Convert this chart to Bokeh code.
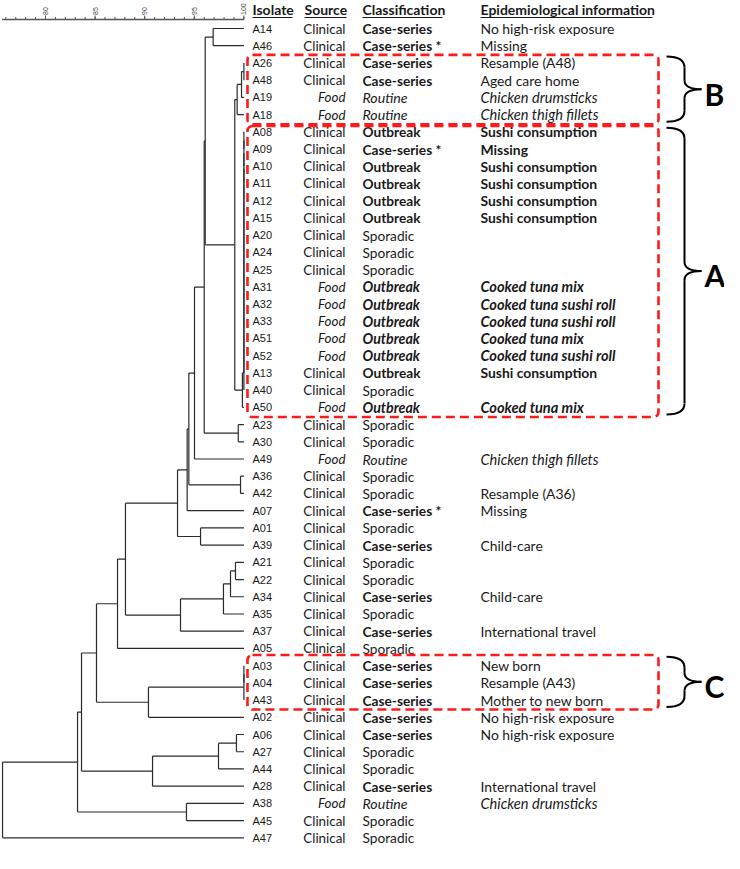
import math
from bokeh.plotting import figure
from bokeh.models import Range1d, ColumnDataSource, BoxAnnotation
from bokeh.embed import file_html
from bokeh.resources import INLINE
from bokeh.core.properties import value, field

# ---------------- data ----------------
isolates = ["A14", "A46", "A26", "A48", "A19", "A18", "A08", "A09", "A10", "A11", "A12", "A15",
            "A20", "A24", "A25", "A31", "A32", "A33", "A51", "A52", "A13", "A40", "A50", "A23",
            "A30", "A49", "A36", "A42", "A07", "A01", "A39", "A21", "A22", "A34", "A35", "A37",
            "A05", "A03", "A04", "A43", "A02", "A06", "A27", "A44", "A28", "A38", "A45", "A47"]
sources = ["Clinical", "Clinical", "Clinical", "Clinical", "Food", "Food", "Clinical", "Clinical",
           "Clinical", "Clinical", "Clinical", "Clinical", "Clinical", "Clinical", "Clinical",
           "Food", "Food", "Food", "Food", "Food", "Clinical", "Clinical", "Food", "Clinical",
           "Clinical", "Food", "Clinical", "Clinical", "Clinical", "Clinical", "Clinical",
           "Clinical", "Clinical", "Clinical", "Clinical", "Clinical", "Clinical", "Clinical",
           "Clinical", "Clinical", "Clinical", "Clinical", "Clinical", "Clinical", "Clinical",
           "Food", "Clinical", "Clinical"]
classifications = ["Case-series", "Case-series *", "Case-series", "Case-series", "Routine", "Routine",
                   "Outbreak", "Case-series *", "Outbreak", "Outbreak", "Outbreak", "Outbreak",
                   "Sporadic", "Sporadic", "Sporadic", "Outbreak", "Outbreak", "Outbreak",
                   "Outbreak", "Outbreak", "Outbreak", "Sporadic", "Outbreak", "Sporadic",
                   "Sporadic", "Routine", "Sporadic", "Sporadic", "Case-series *", "Sporadic",
                   "Case-series", "Sporadic", "Sporadic", "Case-series", "Sporadic", "Case-series",
                   "Sporadic", "Case-series", "Case-series", "Case-series", "Case-series",
                   "Case-series", "Sporadic", "Sporadic", "Case-series", "Routine", "Sporadic",
                   "Sporadic"]
epi_info = ["No high-risk exposure", "Missing", "Resample (A48)", "Aged care home",
            "Chicken drumsticks", "Chicken thigh fillets", "Sushi consumption", "Missing",
            "Sushi consumption", "Sushi consumption", "Sushi consumption", "Sushi consumption",
            "", "", "", "Cooked tuna mix", "Cooked tuna sushi roll", "Cooked tuna sushi roll",
            "Cooked tuna mix", "Cooked tuna sushi roll", "Sushi consumption", "", "Cooked tuna mix",
            "", "", "Chicken thigh fillets", "", "Resample (A36)", "Missing", "", "Child-care",
            "", "", "Child-care", "", "International travel", "", "New born", "Resample (A43)",
            "Mother to new born", "No high-risk exposure", "No high-risk exposure", "", "",
            "International travel", "Chicken drumsticks", "", ""]

# UPGMA-style merges: (child, child, % similarity); merge k is named "n{k}"
merges = [
    ("A14", "A46", 96.9),   # n0
    ("A26", "A48", 100.0),  # n1
    ("n1", "A19", 99.76),   # n2
    ("n2", "A18", 99.32),   # n3
    ("A08", "A09", 100.0),  # n4
    ("n4", "A10", 100.0),   # n5
    ("n5", "A11", 100.0),   # n6
    ("n6", "A12", 100.0),   # n7
    ("n7", "A15", 100.0),   # n8
    ("n8", "A20", 100.0),   # n9
    ("n9", "A24", 100.0),   # n10
    ("n10", "A25", 100.0),  # n11
    ("n11", "A31", 100.0),  # n12
    ("n12", "A32", 100.0),  # n13
    ("n13", "A33", 100.0),  # n14
    ("n14", "A51", 100.0),  # n15
    ("n15", "A52", 100.0),  # n16
    ("n16", "A13", 100.0),  # n17
    ("n17", "A40", 100.0),  # n18
    ("n18", "A50", 99.85),  # n19
    ("n3", "n19", 99.08),   # n20
    ("n0", "n20", 96.1),    # n21
    ("A23", "A30", 99.43),  # n22
    ("n21", "n22", 96.0),   # n23
    ("n23", "A49", 95.02),  # n24
    ("A36", "A42", 99.66),  # n25
    ("n24", "n25", 94.45),  # n26
    ("n26", "A07", 94.28),  # n27
    ("A01", "A39", 95.63),  # n28
    ("n27", "n28", 93.31),  # n29
    ("A21", "A22", 99.15),  # n30
    ("n30", "A34", 98.65),  # n31
    ("n31", "A35", 97.94),  # n32
    ("n32", "A37", 93.61),  # n33
    ("n29", "n33", 88.06),  # n34
    ("n34", "A05", 87.26),  # n35
    ("A03", "A04", 100.0),  # n36
    ("n36", "A43", 100.0),  # n37
    ("n37", "A02", 90.38),  # n38
    ("n35", "n38", 85.14),  # n39
    ("A06", "A27", 99.25),  # n40
    ("n40", "A44", 97.44),  # n41
    ("n41", "A28", 90.79),  # n42
    ("n39", "n42", 83.63),  # n43
    ("A38", "A45", 94.21),  # n44
    ("n43", "n44", 83.23),  # n45
    ("n45", "A47", 75.67),  # n46
]

scale_major = [80, 85, 90, 95, 100]
scale_labels = ["80", "85", "90", "95", "100"]
scale_minor = list(range(76, 101))
scale_start = 75.6

headers = ["Isolate", "Source", "Classification", "Epidemiological information"]
cluster_names = ["B", "A", "C"]
cluster_first = ["A26", "A08", "A03"]
cluster_last = ["A18", "A50", "A43"]

# ---------------- layout constants ----------------
W, H = 724, 853
RS = 17.22                # output px per row
Y0 = 28                   # px of first row
PXR = 1 / RS              # rows per px
Y_TOP = -Y0 * PXR
Y_BOT = (H - Y0) * PXR
PX_PER_SIM = 9.92
SIM_LO = 80 - 45 / PX_PER_SIM
SIM_HI = 80 + (W - 45) / PX_PER_SIM

INK = "#1a1a1a"
LINE = "#2b2b2b"

p = figure(width=W, height=H, x_range=Range1d(0, W), y_range=Range1d(Y_BOT, Y_TOP),
           output_backend="svg", toolbar_location=None, min_border=0,
           x_axis_location=None, y_axis_location=None)
p.extra_x_ranges = {"sim": Range1d(SIM_LO, SIM_HI)}
p.grid.visible = False
p.outline_line_color = None
p.background_fill_color = "white"
p.border_fill_color = "white"

# ---------------- dendrogram ----------------
node_x = {n: 100.0 for n in isolates}
node_y = {n: float(i) for i, n in enumerate(isolates)}
hx0, hx1, hy = [], [], []
vx, vy0, vy1 = [], [], []
for k, (a, b, s) in enumerate(merges):
    for c in (a, b):
        if node_x[c] != s:
            hx0.append(node_x[c]); hx1.append(s); hy.append(node_y[c])
    vx.append(s); vy0.append(node_y[a]); vy1.append(node_y[b])
    node_x[f"n{k}"] = s
    node_y[f"n{k}"] = (node_y[a] + node_y[b]) / 2

p.segment(x0=hx0, y0=hy, x1=hx1, y1=hy, x_range_name="sim", line_color=LINE, line_width=1.2)
p.segment(x0=vx, y0=vy0, x1=vx, y1=vy1, x_range_name="sim", line_color=LINE, line_width=1.2)

# ---------------- similarity scale ----------------
ax_y = (19 - Y0) * PXR
p.segment(x0=[scale_start], y0=[ax_y], x1=[100], y1=[ax_y], x_range_name="sim",
          line_color="#555555", line_width=1.6)
p.segment(x0=scale_minor, y0=[ax_y] * len(scale_minor), x1=scale_minor,
          y1=[ax_y - 2.5 * PXR] * len(scale_minor), x_range_name="sim",
          line_color="#555555", line_width=1)
p.segment(x0=scale_major, y0=[ax_y] * len(scale_major), x1=scale_major,
          y1=[ax_y - 4 * PXR] * len(scale_major), x_range_name="sim",
          line_color="#555555", line_width=1)
p.text(x=scale_major, y=[ax_y - 4.5 * PXR] * len(scale_major), text=scale_labels,
       x_range_name="sim", angle=math.pi / 2, text_align="left", text_baseline="middle",
       text_font=value("Liberation Sans"), text_font_size="7px", text_color="#444444")

# ---------------- table ----------------
rows = list(range(len(isolates)))
in_A = set(isolates[isolates.index(cluster_first[1]):isolates.index(cluster_last[1]) + 1])
src_style = ["italic" if s == "Food" else "normal" for s in sources]
cls_style, epi_style, cls_size, epi_size = [], [], [], []
for iso, s, c in zip(isolates, sources, classifications):
    bold_c = c.startswith("Case-series") or c == "Outbreak"
    ital = s == "Food"
    cls_style.append(("bold italic" if ital else "bold") if bold_c else ("italic" if ital else "normal"))
    bold_e = iso in in_A and c != "Sporadic"
    epi_style.append(("bold italic" if ital else "bold") if bold_e else ("italic" if ital else "normal"))
    cls_size.append("14.2px" if ital else "13.7px")
    epi_size.append("14.6px" if ital else "13.9px")

src = ColumnDataSource(dict(y=rows, iso=isolates, src=sources, cls=classifications, epi=epi_info,
                            sst=src_style, cst=cls_style, est=epi_style,
                            csz=cls_size, esz=epi_size))

p.text(x=252, y="y", text="iso", source=src, text_font=value("Liberation Sans"),
       text_font_size="11px", text_baseline="middle", text_align="left", text_color=INK)
p.text(x=345, y="y", text="src", source=src, text_font=value("Lato"), text_font_size="13.4px",
       text_font_style=field("sst"), text_baseline="middle", text_align="right", text_color=INK)
p.text(x=362, y="y", text="cls", source=src, text_font=value("Lato"), text_font_size=field("csz"),
       text_font_style=field("cst"), text_baseline="middle", text_align="left", text_color=INK)
p.text(x=480, y="y", text="epi", source=src, text_font=value("Lato"), text_font_size=field("esz"),
       text_font_style=field("est"), text_baseline="middle", text_align="left", text_color=INK)

# headers with underline
hdr_x = [252, 304, 362, 480]
hdr_w = [40, 42, 80, 172]
hdr_y = (9 - Y0) * PXR
p.text(x=hdr_x, y=[hdr_y] * 4, text=headers, text_font=value("Lato"), text_font_size="14px",
       text_font_style="bold", text_baseline="middle", text_align="left", text_color=INK)
ul_y = (17 - Y0) * PXR
p.segment(x0=hdr_x, y0=[ul_y] * 4, x1=[a + b for a, b in zip(hdr_x, hdr_w)], y1=[ul_y] * 4,
          line_color=INK, line_width=1.2)

# ---------------- cluster boxes and braces ----------------
top_pad = [0.47, 0.34, 0.62]
bot_pad = [0.57, 0.56, 0.55]
for name, f, l, tp, bp in zip(cluster_names, cluster_first, cluster_last, top_pad, bot_pad):
    r0 = isolates.index(f) - tp
    r1 = isolates.index(l) + bp
    p.add_layout(BoxAnnotation(left=247, right=658, top=r0, bottom=r1, fill_alpha=0,
                               line_color="#ff1a1a", line_alpha=1.0, line_width=2.6,
                               line_dash="9 5", border_radius=5, level="overlay"))
    b0 = r0 + 0.1
    b1 = r1 - 0.15
    ym = (b0 + b1) / 2
    xl, xm, xt = 666, 684, 701
    rc = 11 * PXR
    rt = 9 * PXR
    p.quadratic(x0=[xl, xm, xt, xm], y0=[b0, ym - rt, ym, b1 - rc],
                x1=[xm, xt, xm, xl], y1=[b0 + rc, ym, ym + rt, b1],
                cx=[xm, xm, xm, xm], cy=[b0, ym, ym, b1],
                line_color="black", line_width=2)
    p.segment(x0=[xm, xm], y0=[b0 + rc, ym + rt], x1=[xm, xm], y1=[ym - rt, b1 - rc],
              line_color="black", line_width=2)
    p.text(x=[704], y=[ym + 0.25], text=[name], text_font=value("Lato"), text_font_size="30px",
           text_font_style="bold", text_baseline="middle", text_align="left", text_color="black")

open("out.html", "w").write(file_html(p, INLINE))
